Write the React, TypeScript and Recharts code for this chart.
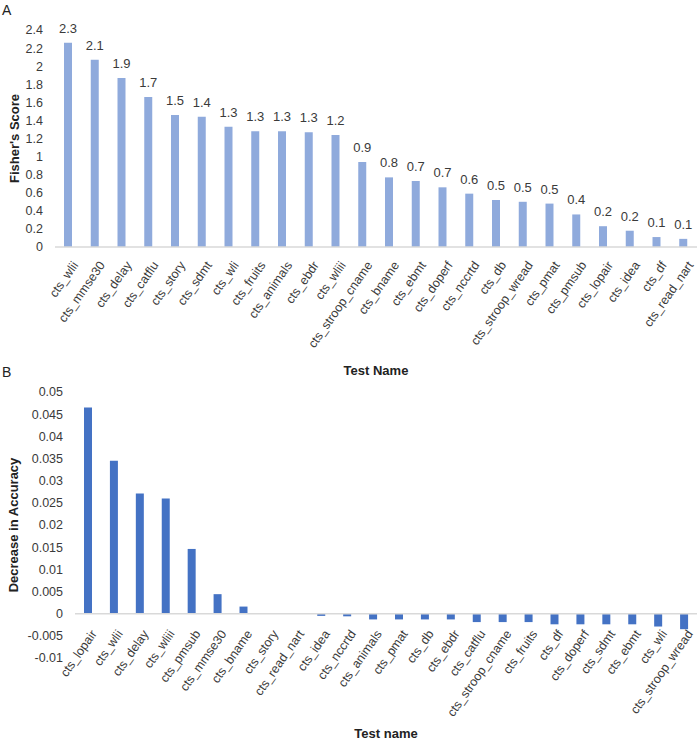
import React from "react";
import { BarChart, Bar, XAxis, YAxis, LabelList, ReferenceLine } from "recharts";

const fisherTests = [
  "cts_wlii", "cts_mmse30", "cts_delay", "cts_catflu", "cts_story", "cts_sdmt",
  "cts_wli", "cts_fruits", "cts_animals", "cts_ebdr", "cts_wliii", "cts_stroop_cname",
  "cts_bname", "cts_ebmt", "cts_doperf", "cts_nccrtd", "cts_db", "cts_stroop_wread",
  "cts_pmat", "cts_pmsub", "cts_lopair", "cts_idea", "cts_df", "cts_read_nart",
];
const fisherScores = [
  2.26, 2.07, 1.87, 1.66, 1.46, 1.44, 1.33, 1.28, 1.28, 1.27, 1.24, 0.94,
  0.77, 0.73, 0.66, 0.59, 0.52, 0.5, 0.48, 0.36, 0.23, 0.18, 0.11, 0.09,
];
const fisherTicks = [0, 0.2, 0.4, 0.6, 0.8, 1, 1.2, 1.4, 1.6, 1.8, 2, 2.2, 2.4];

const accTests = [
  "cts_lopair", "cts_wlii", "cts_delay", "cts_wliii", "cts_pmsub", "cts_mmse30",
  "cts_bname", "cts_story", "cts_read_nart", "cts_idea", "cts_nccrtd", "cts_animals",
  "cts_pmat", "cts_db", "cts_ebdr", "cts_catflu", "cts_stroop_cname", "cts_fruits",
  "cts_df", "cts_doperf", "cts_sdmt", "cts_ebmt", "cts_wli", "cts_stroop_wread",
];
const accDecrease = [
  0.0465, 0.0345, 0.0271, 0.026, 0.0146, 0.0044, 0.0016, 0, 0, -0.0005, -0.0006, -0.0013,
  -0.0013, -0.0013, -0.0013, -0.0019, -0.0019, -0.0019, -0.0024, -0.0024, -0.0024, -0.0024, -0.0029, -0.0035,
];
const accTicks = [-0.01, -0.005, 0, 0.005, 0.01, 0.015, 0.02, 0.025, 0.03, 0.035, 0.04, 0.045, 0.05];

const FONT = '"Liberation Sans", Arial, sans-serif';
const TEXT = "#3a3a3a";
const TITLE = "#222";
const GRID = "#d9d9d9";

const fisherData = fisherTests.map((name, i) => ({ name, score: fisherScores[i] }));
const accData = accTests.map((name, i) => ({ name, value: accDecrease[i] }));

// plot height of chart B, used to lift the category labels up to the zero line
const B_PLOT_H = 266;
const B_ZERO_LIFT = (B_PLOT_H * 0.01) / 0.06;

function SlantTick(props: any) {
  const { x, y, payload, offX, offY } = props;
  const tx = x + offX;
  const ty = y + offY;
  return (
    <text
      x={tx}
      y={ty}
      dy="0.72em"
      textAnchor="end"
      transform={`rotate(-55, ${tx}, ${ty})`}
      fontSize={12.5}
      fontFamily={FONT}
      fill={TEXT}
    >
      {payload.value}
    </text>
  );
}

const panelLetter: React.CSSProperties = {
  position: "absolute",
  left: 2,
  fontFamily: FONT,
  fontSize: 14,
  color: "#222",
  lineHeight: "14px",
};

export default function App() {
  return (
    <div style={{ position: "absolute", left: 0, top: 0, width: 697, height: 741, background: "#fff" }}>
      <div style={{ position: "absolute", left: 0, top: 0 }}>
        <BarChart width={697} height={378} data={fisherData} margin={{ top: 30, right: 0, bottom: 0, left: 0 }}>
          <XAxis
            dataKey="name"
            interval={0}
            height={131}
            axisLine={{ stroke: GRID, strokeWidth: 1.5 }}
            tickLine={false}
            tickSize={0}
            tickMargin={0}
            tick={(p: any) => <SlantTick {...p} offX={3} offY={13} />}
            label={{
              value: "Test Name",
              position: "insideBottom",
              offset: 3,
              style: { fontFamily: FONT, fontSize: 13, fontWeight: "bold", fill: TITLE },
            }}
          />
          <YAxis
            domain={[0, 2.4]}
            ticks={fisherTicks}
            interval={0}
            width={55}
            axisLine={false}
            tickLine={false}
            tickSize={0}
            tickMargin={12}
            tickFormatter={(v: number) => String(Number(v.toFixed(1)))}
            tick={{ fontSize: 12.5, fontFamily: FONT, fill: TEXT }}
            label={{
              value: "Fisher's Score",
              angle: -90,
              position: "insideLeft",
              offset: 14,
              style: { textAnchor: "middle", fontFamily: FONT, fontSize: 13, fontWeight: "bold", fill: TITLE },
            }}
          />
          <Bar dataKey="score" fill="#8faadc" barSize={8} isAnimationActive={false}>
            <LabelList
              dataKey="score"
              position="top"
              offset={10}
              formatter={(v: any) => Number(v).toFixed(1)}
              style={{ fontFamily: FONT, fontSize: 13, fill: TEXT }}
            />
          </Bar>
        </BarChart>
      </div>

      <div style={{ position: "absolute", left: 0, top: 370 }}>
        <BarChart width={697} height={371} data={accData} margin={{ top: 22, right: 0, bottom: 0, left: 0 }}>
          <XAxis
            dataKey="name"
            interval={0}
            height={83}
            axisLine={false}
            tickLine={false}
            tickSize={0}
            tickMargin={0}
            tick={(p: any) => <SlantTick {...p} offX={2} offY={15 - B_ZERO_LIFT} />}
            label={{
              value: "Test name",
              position: "insideBottom",
              offset: 3,
              style: { fontFamily: FONT, fontSize: 13, fontWeight: "bold", fill: TITLE },
            }}
          />
          <YAxis
            domain={[-0.01, 0.05]}
            ticks={accTicks}
            interval={0}
            width={75}
            axisLine={false}
            tickLine={false}
            tickSize={0}
            tickMargin={12}
            tickFormatter={(v: number) => String(Number(v.toFixed(3)))}
            tick={{ fontSize: 12.5, fontFamily: FONT, fill: TEXT }}
            label={{
              value: "Decrease in Accuracy",
              angle: -90,
              position: "insideLeft",
              offset: 13,
              style: { textAnchor: "middle", fontFamily: FONT, fontSize: 13, fontWeight: "bold", fill: TITLE },
            }}
          />
          <ReferenceLine y={0} stroke={GRID} strokeWidth={1.5} />
          <Bar dataKey="value" fill="#4472c4" barSize={8} isAnimationActive={false} />
        </BarChart>
      </div>

      <div style={{ ...panelLetter, top: 3 }}>A</div>
      <div style={{ ...panelLetter, top: 365 }}>B</div>
    </div>
  );
}
